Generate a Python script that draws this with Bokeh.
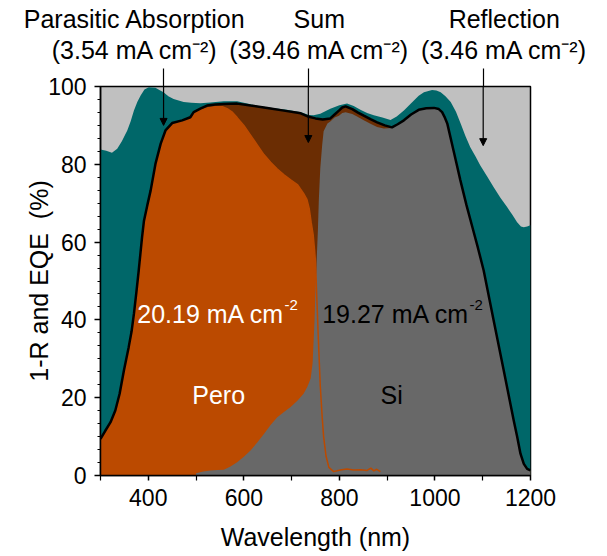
from bokeh.plotting import figure
from bokeh.models import Range1d, FixedTicker, Label, Arrow, NormalHead, LinearAxis, Title
from bokeh.embed import file_html
from bokeh.resources import INLINE

# ---------------- data ----------------
# 1-R (absorptance), %
wl_r = [300, 312, 324, 335, 345, 356, 363, 370, 377, 384, 392, 401, 415, 425, 432, 442,
        453, 474, 490, 509, 530, 558, 586, 607, 630, 660, 690, 720, 736, 746, 760, 781,
        800, 816, 830, 844, 858, 872, 890, 907, 920, 935, 946, 956, 966, 977, 994, 1003,
        1012, 1022, 1033, 1044, 1054, 1064, 1074, 1085, 1095, 1109, 1123, 1137, 1151,
        1162, 1172, 1180, 1186, 1193, 1200]
r_vals = [83.8, 83.5, 83.0, 84.0, 86.0, 88.7, 91.0, 93.8, 96.0, 97.7, 99.2, 99.8, 99.7, 99.0, 98.5, 97.5,
          96.8, 96.0, 95.8, 95.7, 95.9, 96.2, 96.2, 95.6, 95.0, 94.5, 94.0, 93.4, 92.7, 92.6, 93.0, 94.3,
          95.2, 95.6, 95.0, 94.0, 93.2, 92.6, 92.0, 91.4, 92.3, 93.8, 95.2, 96.4, 97.6, 98.5, 99.1, 99.0,
          98.5, 97.5, 96.0, 93.5, 90.4, 87.2, 84.4, 82.0, 79.7, 76.9, 74.1, 71.4, 69.0,
          67.0, 65.1, 64.0, 63.8, 64.0, 64.3]

# Sum EQE (Pero + Si), %
wl_sum = [300, 310, 321, 331, 340, 349, 359, 365, 370, 375, 380, 387, 391, 398, 405, 415,
          426, 436, 450, 471, 488, 495, 509, 523, 540, 558, 586, 614, 649, 684, 719, 736,
          750, 765, 781, 790, 799, 806, 813, 827, 839, 851, 865, 879, 895, 910, 922, 935,
          950, 966, 982, 998, 1008, 1015, 1020, 1026, 1039, 1053, 1066, 1078, 1090, 1102,
          1123, 1144, 1165, 1172, 1179, 1186, 1193, 1200]
sum_vals = [9.4, 11.5, 13.7, 16.7, 21.0, 27.0, 33.0, 37.0, 41.6, 47.0, 52.7, 61.3, 65.5, 69.5, 73.3, 80.1,
            85.3, 88.7, 90.6, 91.3, 92.1, 93.4, 94.3, 95.1, 95.4, 95.5, 95.6, 95.1, 94.5, 93.8, 93.1, 92.2,
            91.8, 91.5, 91.8, 92.8, 93.8, 94.6, 94.9, 94.2, 93.3, 92.5, 91.6, 90.8, 90.0, 89.5, 90.3, 91.3,
            92.8, 94.0, 94.4, 94.5, 94.2, 93.4, 92.2, 90.4, 83.5, 76.0, 69.5, 64.0, 58.5, 52.7,
            39.8, 27.0, 14.1, 10.0, 5.6, 3.0, 1.7, 1.3]

# Perovskite sub-cell EQE, %
wl_pero = [300, 310, 321, 331, 340, 349, 359, 365, 370, 375, 380, 387, 391, 398, 405, 415,
           426, 436, 450, 471, 488, 495, 509, 523, 540, 555, 565, 575, 586, 600, 614, 628,
           642, 656, 670, 684, 698, 712, 725, 732, 737, 741, 745, 748, 750, 753, 756, 760,
           764, 767, 772, 778, 788, 795, 805, 816, 830, 845, 858, 866, 872, 878, 886]
pero_vals = [9.2, 11.3, 13.5, 16.5, 20.8, 26.8, 32.8, 36.8, 41.4, 46.8, 52.5, 61.0, 65.2, 69.2, 73.0, 79.8,
             85.0, 88.4, 90.3, 91.0, 91.8, 93.0, 93.9, 94.5, 94.8, 94.8, 94.3, 93.5, 92.0, 90.0, 87.5, 85.0,
             82.5, 80.5, 78.8, 77.3, 76.0, 74.8, 72.5, 71.0, 68.5, 65.0, 62.0, 58.0, 55.0, 45.0, 35.0, 23.0,
             15.0, 10.0, 5.0, 2.1, 1.0, 1.2, 1.5, 1.7, 1.4, 1.5, 1.3, 1.9, 1.2, 1.6, 1.0]

# Silicon sub-cell EQE, %
wl_si = [500, 515, 530, 545, 558, 572, 586, 600, 614, 628, 642, 656, 670, 684, 698, 712,
         725, 733, 740, 744, 748, 750, 753, 755, 757, 760, 764, 767, 775, 781, 790, 799,
         806, 813, 827, 837, 851, 865, 879, 893, 910, 922, 935, 950, 966, 982, 998, 1008,
         1015, 1020, 1026, 1039, 1053, 1066, 1078, 1090, 1102, 1123, 1144, 1165, 1172, 1179,
         1186, 1193, 1200]
si_vals = [0.6, 1.0, 1.3, 1.4, 1.5, 2.3, 3.4, 4.8, 6.4, 8.5, 10.7, 13.0, 15.0, 16.3, 17.6, 19.2,
           21.0, 22.8, 25.0, 29.0, 40.0, 48.0, 57.0, 63.0, 71.0, 79.0, 85.0, 88.5, 90.5, 91.0, 92.0, 92.5,
           93.2, 93.4, 92.9, 92.3, 91.3, 90.4, 89.6, 89.2, 89.3, 90.2, 91.2, 92.7, 93.9, 94.3, 94.4, 94.1,
           93.3, 92.1, 90.3, 83.4, 75.9, 69.4, 63.9, 58.4, 52.6, 39.7, 26.9, 14.0, 9.9, 5.5,
           2.9, 1.6, 1.2]

x_major = [400, 600, 800, 1000, 1200]
x_minor = [300, 500, 700, 900, 1100]
y_major = [0, 20, 40, 60, 80, 100]

# top annotations: label positions (nm) and texts; arrows point from them into the plot
top_pos = [372, 758, 1145]
top_labels = ["Parasitic Absorption\n(3.54 mA cm\u207b\u00b2)",
              "Sum\n(39.46 mA cm\u207b\u00b2)",
              "Reflection\n(3.46 mA cm\u207b\u00b2)"]
arrow_x = [432, 735, 1101]
arrow_tip = [90.0, 85.6, 84.8]

# ---------------- styling ----------------
C_REFL = "#c0c0c0"
C_TEAL = "#006769"
C_BROWN = "#6b2d03"
C_ORANGE = "#bb4a00"
C_GRAY = "#686868"
FONT = "Liberation Sans"

p = figure(frame_width=430, frame_height=389,
           x_range=Range1d(300, 1200), y_range=Range1d(0, 100),
           output_backend="svg", toolbar_location=None,
           min_border_left=100, min_border_top=86, min_border_bottom=70, min_border_right=70)
p.background_fill_color = C_REFL
p.border_fill_color = "white"
p.grid.visible = False
p.outline_line_color = "black"
p.outline_line_width = 1.5

p.varea(x=wl_r, y1=0, y2=r_vals, fill_color=C_TEAL)
p.varea(x=wl_sum, y1=0, y2=sum_vals, fill_color=C_BROWN)
p.varea(x=wl_pero, y1=0, y2=pero_vals, fill_color=C_ORANGE)
p.varea(x=wl_si, y1=0, y2=si_vals, fill_color=C_GRAY)
p.line(x=wl_pero, y=pero_vals, line_color=C_ORANGE, line_width=1.5)
p.line(x=wl_sum, y=sum_vals, line_color="black", line_width=2.5)

# axes
y_minor = [k * 20.0 / 6 for k in range(31) if k % 6 != 0]
p.xaxis.ticker = FixedTicker(ticks=x_major, minor_ticks=x_minor)
p.yaxis.ticker = FixedTicker(ticks=y_major, minor_ticks=y_minor)
for ax in (p.xaxis, p.yaxis):
    ax.axis_line_width = 1.5
    ax.axis_line_color = "black"
    ax.major_tick_line_width = 1.5
    ax.major_tick_line_color = "black"
    ax.minor_tick_line_width = 1.2
    ax.minor_tick_line_color = "black"
    ax.major_tick_in = 0
    ax.minor_tick_in = 0
    ax.major_label_text_font = FONT
    ax.major_label_text_font_size = "23px"
    ax.major_label_text_color = "black"
    ax.axis_label_text_font = FONT
    ax.axis_label_text_font_size = "25px"
    ax.axis_label_text_font_style = "normal"
    ax.axis_label_text_color = "black"
p.xaxis.major_tick_out = 5
p.xaxis.minor_tick_out = 5
p.xaxis.major_label_standoff = 8
p.xaxis.axis_label = "Wavelength (nm)"
p.xaxis.axis_label_standoff = 14
p.yaxis.major_tick_out = 6
p.yaxis.minor_tick_out = 3
p.yaxis.major_label_standoff = 8

# y title, shifted down along the axis like the reference
ytitle = Title(text="1-R and EQE\u00a0 (%)", align="center", offset=-22, standoff=-14,
               text_font=FONT, text_font_size="25px", text_font_style="normal",
               text_color="black")
p.add_layout(ytitle, "left")

# top annotation row: an invisible axis carrying the texts; its minor ticks form the arrow stems
top = LinearAxis(ticker=FixedTicker(ticks=top_pos, minor_ticks=arrow_x),
                 major_label_overrides={k: v for k, v in zip(top_pos, top_labels)})
top.axis_line_color = None
top.major_tick_line_color = None
top.major_tick_out = 0
top.major_tick_in = 0
top.minor_tick_in = 0
top.minor_tick_out = 18
top.minor_tick_line_color = "black"
top.minor_tick_line_width = 1.2
top.major_label_standoff = 5
top.major_label_text_font = FONT
top.major_label_text_font_size = "25px"
top.major_label_text_color = "black"
top.major_label_text_line_height = 1.08
p.add_layout(top, "above")

# text helpers for in-plot labels (Arial / Liberation Sans advance widths)
AW = {' ': 278, '(': 333, ')': 333, '-': 333, '.': 278, 'A': 667, 'm': 833, 'c': 500,
      'S': 667, 'u': 556, 'R': 722, 'e': 556, 'f': 278, 'l': 222, 't': 278, 'i': 222,
      'o': 556, 'n': 556, 'P': 667, 'a': 556, 'r': 333, 's': 500, 'b': 556, 'p': 556}


def tw(s, size):
    return sum(AW.get(ch, 556) for ch in s) * size / 1000.0


def group(x, y, parts, color):
    off = 0
    for t, sz, r in parts:
        p.add_layout(Label(x=x, y=y, x_offset=off, y_offset=r, text=t,
                           text_font=FONT, text_font_size=f"{sz}px", text_color=color,
                           text_align="left", text_baseline="alphabetic"))
        off += tw(t, sz)


group(377, 41.6, [("20.19 mA cm", 25, 0), ("-2", 15, 9)], "white")
group(764, 41.6, [("19.27 mA cm", 25, 0), ("-2", 15, 9)], "black")
group(492, 20.6, [("Pero", 25, 0)], "white")
group(886, 20.6, [("Si", 25, 0)], "black")

# arrow parts inside the frame (with heads)
for xa, ya in zip(arrow_x, arrow_tip):
    p.add_layout(Arrow(x_start=xa, y_start=100, x_end=xa, y_end=ya, line_width=1.2,
                       line_color="black",
                       end=NormalHead(size=7, fill_color="black", line_color="black", line_width=1)))

open("out.html", "w").write(file_html(p, INLINE))
